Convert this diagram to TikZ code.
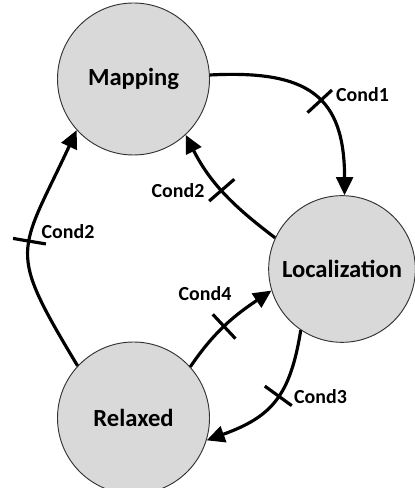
\documentclass[tikz,border=0pt]{standalone}
\usepackage{fontspec}
\setmainfont{Carlito}
\usetikzlibrary{arrows.meta,decorations.markings}

\begin{document}
\begin{tikzpicture}[x=0.03cm,y=0.03cm,
    state/.style={circle,draw=black!80,line width=0.8pt,fill=black!15,
      minimum size=4.56cm,inner sep=0pt,font=\fontsize{21}{25}\selectfont\bfseries},
    edge/.style={line width=2.7pt,-{Triangle[length=5.4mm,width=5mm]}},
    cond/.style={font=\fontsize{17}{20}\selectfont\bfseries},
    condtick/.style={postaction={decorate,decoration={markings,
      mark=at position #1 with {\draw[-,line width=2.7pt] (0,-0.5cm)--(0,0.5cm);}}}}]
  \useasboundingbox (0,0) rectangle (414,488);
  % states
  \node[state] (map) at (133.5,409) {Mapping};
  \node[state,minimum size=4.4cm] (loc) at (342,219) {Localization};
  \node[state] (rel) at (133.5,70) {Relaxed};
  % transitions
  \draw[edge,condtick=.54] (map.3) to[out=3,in=90,looseness=1.4] (loc.88);
  \draw[edge,condtick=.52] (loc.155) to[out=143,in=-63] (map.-47);
  \draw[edge,condtick=.53] (rel.137) to[out=121,in=245,looseness=1.5] (map.222);
  \draw[edge,condtick=.47] (rel.42) to[out=56,in=214] (loc.197);
  \draw[edge,condtick=.45] (loc.236) to[out=261,in=20,looseness=1.2] (rel.-17);
  % labels
  \node[cond,anchor=west] (c1) at (332,393) {Cond1};
  \node[cond] (c2) at (178,297) {Cond2};
  \node[cond] (c2b) at (68,256) {Cond2};
  \node[cond] (c4) at (205,194) {Cond4};
  \node[cond,anchor=west] (c3) at (290,91) {Cond3};
\end{tikzpicture}
\end{document}
